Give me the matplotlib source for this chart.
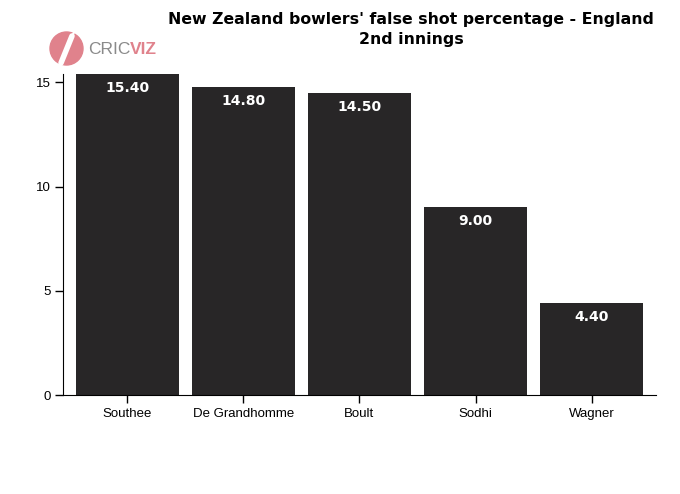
import matplotlib
matplotlib.use("Agg")
from matplotlib import pyplot
from matplotlib.patches import Circle

bowlers = ["Southee", "De Grandhomme", "Boult", "Sodhi", "Wagner"]
false_shot_pct = [15.40, 14.80, 14.50, 9.00, 4.40]

bar_color = "#282627"

fig = pyplot.figure(figsize=(6.8, 4.94), dpi=100)
ax = fig.add_axes([0.0926, 0.2004, 0.8721, 0.6496])

xs = range(len(bowlers))
bars = ax.bar(xs, false_shot_pct, width=0.89, color=bar_color)

# value labels inside the top of each bar
for b, v in zip(bars, false_shot_pct):
    ax.annotate("%.2f" % v, (b.get_x() + b.get_width() / 2, v),
                xytext=(0, -14), textcoords="offset pixels",
                ha="center", va="center", color="white", fontweight="bold",
                fontsize=10, family="DejaVu Sans")

ax.set_xlim(-0.555, len(bowlers) - 1 + 0.555)
ax.set_ylim(0, 15.4)
ax.set_yticks([0, 5, 10, 15])
ax.set_xticks(list(xs))
ax.set_xticklabels(bowlers)
for s in ["top", "right"]:
    ax.spines[s].set_visible(False)
ax.tick_params(length=6, width=1, labelsize=9.5, pad=3)
for lbl in ax.get_xticklabels() + ax.get_yticklabels():
    lbl.set_family("Liberation Sans")

fig.text(0.605, 0.975, "New Zealand bowlers' false shot percentage - England\n2nd innings",
         ha="center", va="top", fontsize=11.3, fontweight="bold",
         family="DejaVu Sans", linespacing=1.35)

# cricviz logo
logo_ax = fig.add_axes([0, 0, 1, 1], facecolor="none")
logo_ax.set_xlim(0, 680)
logo_ax.set_ylim(494, 0)
logo_ax.axis("off")
logo_ax.add_patch(Circle((66.5, 48.5), 16.5, color="#e0828c"))
logo_ax.plot([61, 72], [63, 36], color="white", lw=4, solid_capstyle="round")
logo_ax.plot([72, 76], [36, 29], color="white", lw=1.5)
cric = logo_ax.text(88, 50, "CRIC", color="#8a8a8a", fontsize=12.5, va="center", ha="left",
                    family="Liberation Sans")
logo_ax.annotate("VIZ", xy=(1, 0.5), xycoords=cric, color="#e0828c", fontsize=12.5,
                 va="center", ha="left", fontweight="bold", family="Liberation Sans")

fig.savefig("out.png", dpi=100)
